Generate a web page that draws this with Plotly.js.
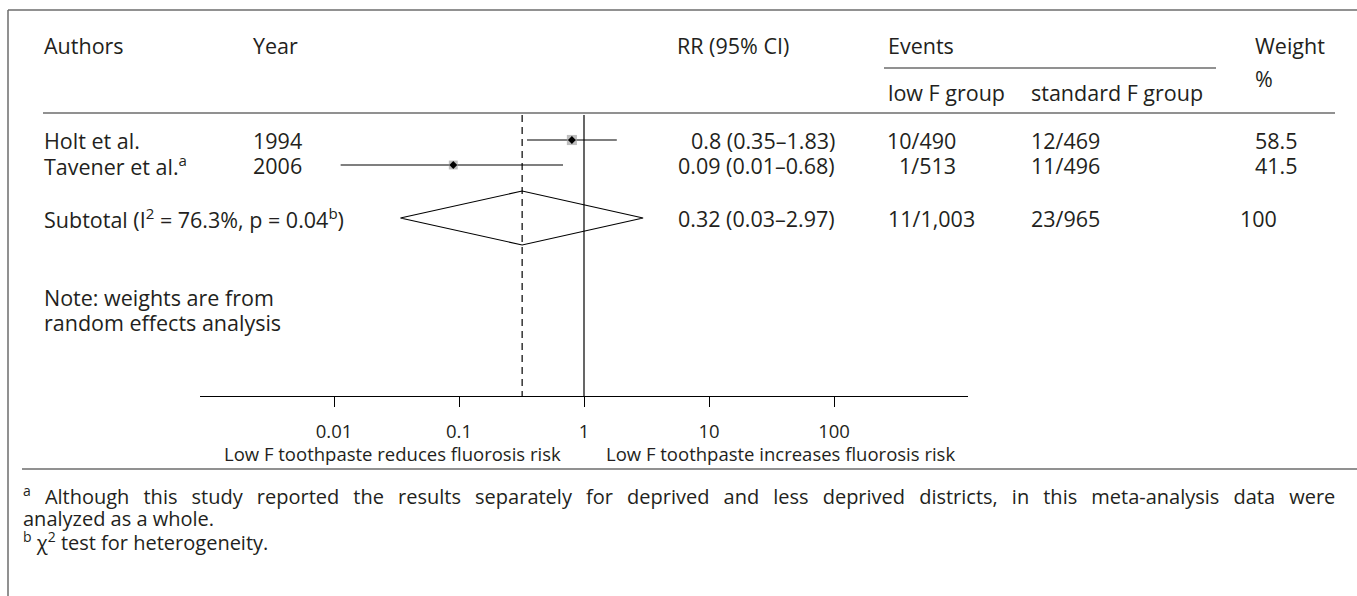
<!DOCTYPE html>
<html>
<head>
<meta charset="utf-8">
<script src="https://cdn.plot.ly/plotly-3.0.1.min.js"></script>
<style>
html,body{margin:0;padding:0;background:#fff;}
#chart{width:1357px;height:596px;}
</style>
</head>
<body>
<div id="chart"></div>
<script>
// ---------- data ----------
const studies = ['Holt et al.', 'Tavener et al.<sup>a</sup>'];
const years = ['1994', '2006'];
const rr = [0.8, 0.09];
const ciLow = [0.35, 0.0113];
const ciHigh = [1.83, 0.68];
const rrText = ['0.8 (0.35–1.83)', '0.09 (0.01–0.68)'];
const lowEvents = ['10/490', '1/513'];
const stdEvents = ['12/469', '11/496'];
const weights = ['58.5', '41.5'];
const weightValues = [58.5, 41.5];

const pooledLabel = 'Subtotal (I<sup>2</sup> = 76.3%, p = 0.04<sup>b</sup>)';
const pooledRR = [0.32];
const pooledLow = [0.034];
const pooledHigh = [2.97];
const pooledText = ['0.32 (0.03–2.97)'];
const pooledLowEvents = ['11/1,003'];
const pooledStdEvents = ['23/965'];
const pooledWeight = ['100'];

const tickVals = [0.01, 0.1, 1, 10, 100];
const tickText = ['0.01', '0.1', '1', '10', '100'];

const headers = ['Authors', 'Year', 'RR (95% CI)', 'Events', 'Weight', '%', 'low F group', 'standard F group'];
const noteLines = ['Note: weights are from', 'random effects analysis'];
const sideLabels = ['Low F toothpaste reduces fluorosis risk', 'Low F toothpaste increases fluorosis risk'];
const footnotes = [
  '<sup>a</sup> Although this study reported the results separately for deprived and less deprived districts, in this meta-analysis data were',
  'analyzed as a whole.',
  '<sup>b</sup> χ<sup>2</sup> test for heterogeneity.'
];

// ---------- layout helpers ----------
const W = 1357, H = 596;
const px = v => v / W;
const rowY = [140, 165];
const subtotalY = 218;
const lineTop = 115, axisY = 396;
const txtColor = '#231f20';
const FONT = 'Open Sans, Noto Sans, sans-serif';
const FS = 21.5;     // table text
const FA = 18.5;     // axis text
const FF = 20;       // footnotes

const traces = [];

// reference lines (null line at RR = 1, pooled estimate dashed)
traces.push({x: [1, 1], y: [lineTop, axisY], mode: 'lines', line: {color: '#000', width: 1.2}, hoverinfo: 'skip'});
traces.push({x: [pooledRR[0], pooledRR[0]], y: [lineTop, axisY], mode: 'lines', line: {color: '#000', width: 1.2, dash: '7px,5px'}, hoverinfo: 'skip'});

// CI lines
const cx = [], cy = [];
rr.forEach((v, i) => { cx.push(ciLow[i], ciHigh[i], null); cy.push(rowY[i], rowY[i], null); });
traces.push({x: cx, y: cy, mode: 'lines', line: {color: '#000', width: 1.1}, hoverinfo: 'skip'});

// weight squares
traces.push({x: rr, y: rowY, mode: 'markers', hoverinfo: 'skip',
  marker: {symbol: 'square', color: '#a3a3a3', size: weightValues.map(w => 6 + w * 0.07), line: {width: 0}}});
// point estimates
traces.push({x: rr, y: rowY, mode: 'markers', hoverinfo: 'skip',
  marker: {symbol: 'diamond', color: '#000', size: 6, line: {width: 0}}});

// pooled diamond
const dh = 27;
traces.push({x: [pooledLow[0], pooledRR[0], pooledHigh[0], pooledRR[0], pooledLow[0]],
  y: [subtotalY, subtotalY - dh, subtotalY, subtotalY + dh, subtotalY],
  mode: 'lines', line: {color: '#000', width: 1.1}, hoverinfo: 'skip'});

// ---------- annotations ----------
const ann = [];
function T(text, x, y, anchor, size) {
  ann.push({text: text, x: px(x), y: y, xref: 'paper', yref: 'y', xanchor: anchor || 'left', yanchor: 'middle',
    showarrow: false, font: {family: FONT, size: size || FS, color: txtColor}, borderpad: 0});
}
const colA = 43, colYear = 252, colRRr = 836, colLow = 887, colLowR = 957, colStd = 1030, colW = 1254;
// header
T(headers[0], colA, 45); T(headers[1], colYear, 45); T(headers[2], 676, 45);
T(headers[3], colLow, 45); T(headers[4], colW, 45); T(headers[5], colW, 78);
T(headers[6], colLow, 92); T(headers[7], colStd, 92);
// study rows
studies.forEach((s, i) => {
  T(s, colA, rowY[i]); T(years[i], colYear, rowY[i]);
  T(rrText[i], colRRr, rowY[i], 'right');
  T(lowEvents[i], colLowR, rowY[i], 'right');
  T(stdEvents[i], colStd, rowY[i]);
  T(weights[i], colW, rowY[i]);
});
// subtotal
T(pooledLabel, colA, subtotalY); T(pooledText[0], colRRr, subtotalY, 'right');
T(pooledLowEvents[0], colLow, subtotalY); T(pooledStdEvents[0], colStd, subtotalY); T(pooledWeight[0], 1239, subtotalY);
// note
T(noteLines[0], colA, 297); T(noteLines[1], colA, 322);
// axis direction labels
T(sideLabels[0], 562, 453, 'right', FA);
T(sideLabels[1], 605, 453, 'left', FA);
// footnotes (first line justified)
T('<span style="word-spacing:8.9px">' + footnotes[0] + '</span>', 22, 495, 'left', FF);
T(footnotes[1], 22, 518, 'left', FF);
T(footnotes[2], 22, 541, 'left', FF);

// ---------- shapes (rules) ----------
const gray = '#6d6d6d';
const hl = (x0, x1, y, w) => ({type: 'line', xref: 'paper', yref: 'y', x0: px(x0), x1: px(x1), y0: y, y1: y, line: {color: gray, width: w || 1.5}});
const shapes = [
  hl(8, W, 10),
  {type: 'line', xref: 'paper', yref: 'y', x0: px(8), x1: px(8), y0: 10, y1: H, line: {color: gray, width: 1.5}},
  hl(43, 1335, 113),
  hl(884, 1216, 68),
  hl(22, W, 469)
];

const half = 384 / 125;
const layout = {
  width: W, height: H, margin: {l: 0, r: 0, t: 0, b: 0},
  paper_bgcolor: '#fff', plot_bgcolor: 'rgba(0,0,0,0)', showlegend: false,
  font: {family: FONT, size: FS, color: txtColor},
  xaxis: {type: 'log', domain: [px(200), px(968)], range: [-half, half], anchor: 'free', position: (H - axisY) / H,
    tickvals: tickVals, ticktext: tickText, ticks: 'outside', ticklen: 10, tickcolor: '#000', tickwidth: 1,
    showline: true, linecolor: '#000', linewidth: 1.2, showgrid: false, zeroline: false,
    ticklabelstandoff: 9, tickfont: {family: FONT, size: FA, color: txtColor}, fixedrange: true},
  yaxis: {range: [H, 0], domain: [0, 1], visible: false, showgrid: false, zeroline: false, fixedrange: true},
  annotations: ann, shapes: shapes
};
Plotly.newPlot('chart', traces, layout, {displayModeBar: false, staticPlot: true});
</script>
</body>
</html>
